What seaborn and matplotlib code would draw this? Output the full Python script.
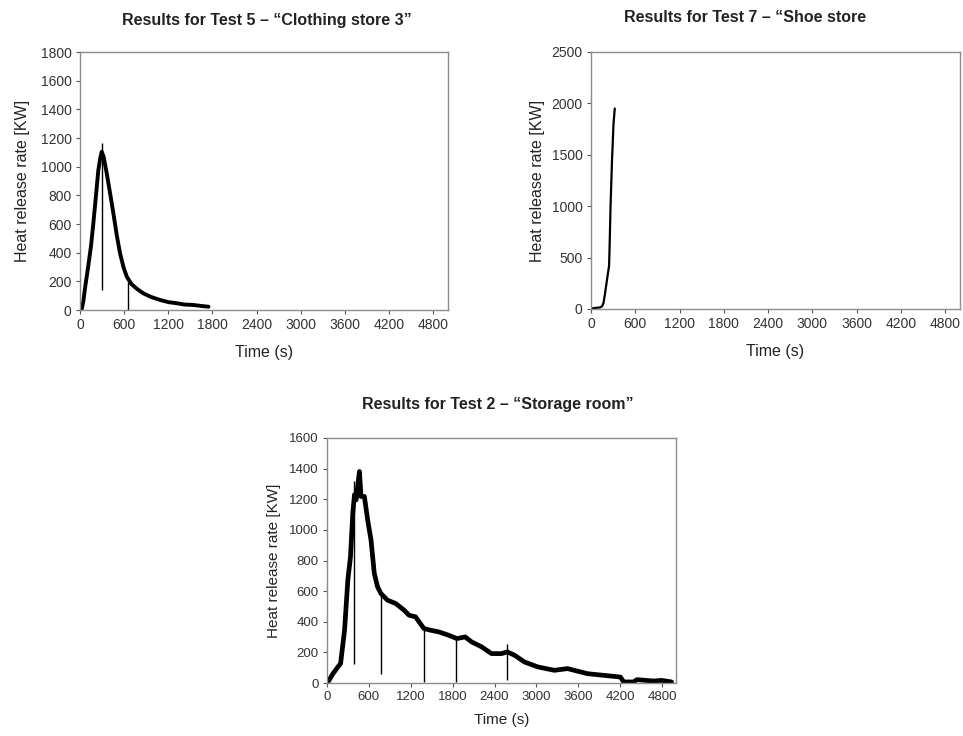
import matplotlib
matplotlib.use("Agg")
import matplotlib.pyplot as plt
import seaborn as sns
import pandas as pd

# ---------------- data ----------------
# Test 5 - Clothing store 3
t5_time = [20, 45, 68, 110, 150, 181, 215, 249, 275, 295, 320, 363, 410, 453, 500,
           544, 590, 635, 700, 780, 861, 960, 1088, 1200, 1315, 1420, 1542, 1650, 1746]
t5_hrr = [0, 60, 153, 300, 450, 605, 790, 977, 1060, 1105, 1070, 953, 810, 675, 520,
          395, 300, 233, 180, 145, 116, 92, 70, 55, 47, 38, 35, 28, 23]
t5_spike_x = [295, 652]
t5_spike_lo = [140, 0]
t5_spike_hi = [1163, 195]

# Test 7 - Shoe store
t7_time = [0, 60, 120, 150, 170, 190, 220, 245, 252, 265, 285, 305, 322]
t7_hrr = [5, 10, 15, 25, 60, 150, 300, 420, 600, 1000, 1450, 1800, 1950]

# Test 2 - Storage room
t2_time = [14, 85, 156, 194, 251, 298, 336, 369, 393, 417, 450, 464, 487, 535, 582,
           630, 677, 724, 771, 866, 985, 1103, 1174, 1268, 1387, 1481, 1600, 1742,
           1860, 1978, 2073, 2215, 2357, 2499, 2584, 2688, 2830, 3020, 3256, 3446,
           3730, 3966, 4203, 4250, 4392, 4440, 4676, 4794, 4936]
t2_hrr = [7, 61, 105, 127, 345, 672, 825, 1108, 1230, 1196, 1327, 1381, 1218, 1218, 1065,
          934, 716, 628, 585, 541, 519, 476, 443, 432, 356, 345, 334, 312,
          290, 301, 268, 236, 192, 192, 203, 181, 137, 105, 83, 94,
          61, 50, 39, 7, 7, 22, 13, 17, 7]
t2_spike_x = [393, 771, 1387, 1851, 2584]
t2_spike_lo = [127, 61, 7, 7, 17]
t2_spike_hi = [1316, 585, 345, 301, 257]

x_ticks = [0, 600, 1200, 1800, 2400, 3000, 3600, 4200, 4800]

# ---------------- style ----------------
sns.set_theme(style="white")
plt.rcParams['font.family'] = ['Liberation Sans', 'DejaVu Sans']
plt.rcParams['axes.edgecolor'] = '#8c8c8c'
plt.rcParams['xtick.color'] = '#555555'
plt.rcParams['ytick.color'] = '#555555'

fig = plt.figure(figsize=(9.63, 7.36), dpi=100)

def make_panel(rect, time, hrr, ymax, ystep, sx=None, slo=None, shi=None,
               lw=2.0, tick_fs=10, lab_fs=11.5, ylabpad=9, xlabpad=9):
    ax = fig.add_axes(rect)
    df = pd.DataFrame({"Time": time, "HRR": hrr})
    sns.lineplot(data=df, x="Time", y="HRR", ax=ax, color="black", lw=lw,
                 estimator=None, sort=False)
    if sx is not None:
        ax.vlines(sx, slo, shi, color="black", lw=1.0)
    ax.set_xlim(0, 5000)
    ax.set_ylim(0, ymax)
    ax.set_xticks(x_ticks)
    ax.set_yticks(list(range(0, ymax + 1, ystep)))
    ax.tick_params(axis='both', direction='out', length=3, width=0.8,
                   labelsize=tick_fs, pad=3, bottom=True, left=True,
                   labelcolor='#333333')
    for s in ax.spines.values():
        s.set_linewidth(1.0)
    ax.set_xlabel("Time (s)", fontsize=lab_fs, color='#222222', labelpad=xlabpad)
    ax.set_ylabel("Heat release rate [KW]", fontsize=lab_fs, color='#222222',
                  labelpad=ylabpad)
    return ax

make_panel([0.0831, 0.5788, 0.3821, 0.3505], t5_time, t5_hrr, 1800, 200,
           t5_spike_x, t5_spike_lo, t5_spike_hi, lw=2.8, ylabpad=8, xlabpad=9)
make_panel([0.6137, 0.5802, 0.3832, 0.3492], t7_time, t7_hrr, 2500, 500,
           lw=1.6, ylabpad=5, xlabpad=9)
make_panel([0.3396, 0.0720, 0.3624, 0.3329], t2_time, t2_hrr, 1600, 200,
           t2_spike_x, t2_spike_lo, t2_spike_hi, lw=3.4, tick_fs=9.5, lab_fs=11,
           ylabpad=6, xlabpad=7)

fig.text(267 / 963, 1 - 20 / 736, "Results for Test 5 \u2013 \u201cClothing store 3\u201d",
         ha='center', va='center', fontsize=11.5, fontweight='bold', color='#222222')
fig.text(745 / 963, 1 - 18 / 736, "Results for Test 7 \u2013 \u201cShoe store",
         ha='center', va='center', fontsize=11.5, fontweight='bold', color='#222222')
fig.text(498 / 963, 1 - 405 / 736, "Results for Test 2 \u2013 \u201cStorage room\u201d",
         ha='center', va='center', fontsize=11.5, fontweight='bold', color='#222222')

fig.savefig("out.png", dpi=100, facecolor='white')
